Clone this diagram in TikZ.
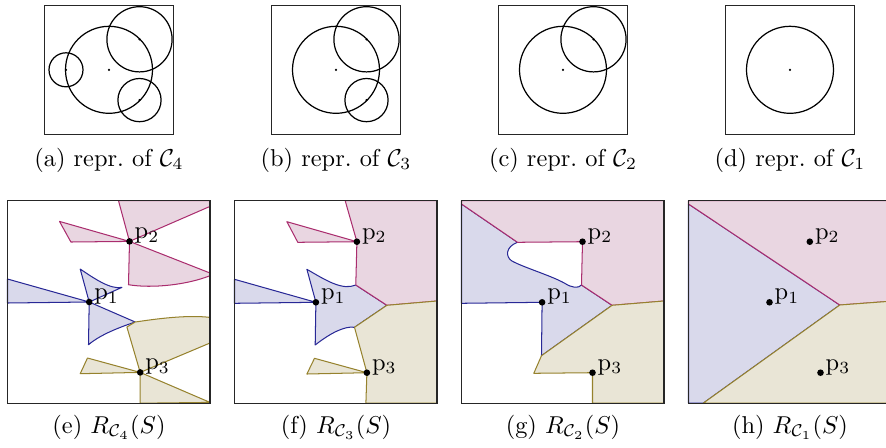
\documentclass[tikz,border=0pt]{standalone}
\usepackage{amsmath,amssymb}
\usepackage{tikz}
\usetikzlibrary{positioning}

\definecolor{regpink}{RGB}{233,214,225}
\definecolor{regblue}{RGB}{217,217,235}
\definecolor{regbeige}{RGB}{233,229,214}
\definecolor{linepink}{RGB}{170,45,110}
\definecolor{lineblue}{RGB}{40,40,150}
\definecolor{linebeige}{RGB}{150,130,45}

\begin{document}
\begin{tikzpicture}[
  x=0.41pt, y=-0.41pt,
  frame/.style={draw=black!85, line width=0.55pt},
  disk/.style={draw, line width=0.5pt},
  rpink/.style={fill=regpink, draw=linepink, line width=0.42pt, line join=round},
  rblue/.style={fill=regblue, draw=lineblue, line width=0.42pt, line join=round},
  rbeige/.style={fill=regbeige, draw=linebeige, line width=0.42pt, line join=round},
  plabel/.style={anchor=base west, inner sep=0pt, xshift=1.95pt, yshift=1pt},
  subcap/.style={anchor=base, inner sep=0pt}
]
  \useasboundingbox (0,0) rectangle (886,447);

  % --- TOP ROW: REPRESENTATIVES ---
  % (a) four circles
  \begin{scope}[shift={(109,69.8)}]
    \draw[frame] (-64.5,-64.5) rectangle (64.5,64.5);
    \draw[disk] (0,0) circle (43.5);
    \draw[disk] (30.5,-30.5) circle (32.6);
    \draw[disk] (-43,0) circle (17);
    \draw[disk] (30.5,30.3) circle (21.6);
    \foreach \c in {(0,0),(30.5,-30.5),(-43,0),(30.5,30.3)}
      \fill \c circle[radius=0.5pt];
  \end{scope}
  \node[subcap] (capa) at (109,166) {(a) repr.\ of $\mathcal{C}_4$};

  % (b) three circles
  \begin{scope}[shift={(336,69.8)}]
    \draw[frame] (-64.5,-64.5) rectangle (64.5,64.5);
    \draw[disk] (0,0) circle (43.5);
    \draw[disk] (30.5,-30.5) circle (32.6);
    \draw[disk] (30.5,30.3) circle (21.6);
    \foreach \c in {(0,0),(30.5,-30.5),(30.5,30.3)}
      \fill \c circle[radius=0.5pt];
  \end{scope}
  \node[subcap] (capb) at (336,166) {(b) repr.\ of $\mathcal{C}_3$};

  % (c) two circles
  \begin{scope}[shift={(563,69.8)}]
    \draw[frame] (-64.5,-64.5) rectangle (64.5,64.5);
    \draw[disk] (0,0) circle (43.5);
    \draw[disk] (30.5,-30.5) circle (32.6);
    \foreach \c in {(0,0),(30.5,-30.5)}
      \fill \c circle[radius=0.5pt];
  \end{scope}
  \node[subcap] (capc) at (563,166) {(c) repr.\ of $\mathcal{C}_2$};

  % (d) one circle
  \begin{scope}[shift={(790,69.8)}]
    \draw[frame] (-64.5,-64.5) rectangle (64.5,64.5);
    \draw[disk] (0,0) circle (43.5);
    \fill (0,0) circle[radius=0.5pt];
  \end{scope}
  \node[subcap] (capd) at (790,166) {(d) repr.\ of $\mathcal{C}_1$};

  % --- BOTTOM ROW: REGIONS ---
  % (e)
  \begin{scope}[shift={(7.5,200.7)}]
    \coordinate (ep1) at (81.7,101.3);
    \coordinate (ep2) at (122,40.7);
    \coordinate (ep3) at (132.7,171.7);
    % blue wedges
    \draw[rblue] (0,78.3) -- (ep1) -- (0,102.3) -- cycle;
    \draw[rblue] (ep1) -- (72.7,68.3) .. controls (86,77.3) and (102.7,89) .. (114.4,86.7) -- cycle;
    \draw[rblue] (ep1) -- (127.7,121.3) .. controls (120,124) and (95,132) .. (81,144) -- cycle;
    % pink wedges
    \draw[rpink] (ep2) -- (111,0) -- (202.5,0) -- (202.5,5.7) -- cycle;
    \draw[rpink] (ep2) -- (52,20.7) -- (63.4,41.3) -- cycle;
    \draw[rpink] (ep2) -- (202.5,72.3) -- (202.5,75) .. controls (180,84) and (145,88) .. (121,84) -- cycle;
    % beige wedges
    \draw[rbeige] (119.4,126.3) -- (127.7,121.3) .. controls (150,118) and (180,114) .. (202.5,116.7)
      -- (202.5,142.3) -- (ep3) -- cycle;
    \draw[rbeige] (ep3) -- (202.5,201.7) -- (132.7,202.5) -- cycle;
    \draw[rbeige] (ep3) -- (80,157.3) -- (72.7,173) -- cycle;
    \draw[frame] (0,0) rectangle (202.5,202.5);
    \foreach \p in {ep1,ep2,ep3} \fill (\p) circle[radius=1.35pt];
    \node[plabel] (el1) at (ep1) {$\mathrm{p}_1$};
    \node[plabel] (el2) at (ep2) {$\mathrm{p}_2$};
    \node[plabel] (el3) at (ep3) {$\mathrm{p}_3$};
  \end{scope}
  \node[subcap] (cape) at (109,433) {(e) $R_{\mathcal{C}_4}(S)$};

  % (f)
  \begin{scope}[shift={(234.5,200.7)}]
    \coordinate (fp1) at (81.4,101.6);
    \coordinate (fp2) at (122.4,41);
    \coordinate (fp3) at (132.4,172);
    \coordinate (fj) at (152.4,104.6);
    % blue
    \draw[rblue] (0,78.6) -- (fp1) -- (0,102.6) -- cycle;
    \draw[rblue] (fp1) -- (72.4,68.6) .. controls (92,80) and (108,90) .. (121.3,84.3)
      -- (fj) -- (120,126.6) .. controls (110,125) and (95,133) .. (80.7,144.3) -- cycle;
    % pink
    \draw[rpink] (110.7,0) -- (202.5,0) -- (202.5,100.3) -- (fj) -- (121.3,84.3) -- (fp2) -- cycle;
    \draw[rpink] (fp2) -- (52.4,21) -- (63.3,41.6) -- cycle;
    % beige
    \draw[rbeige] (120,126.6) -- (fj) -- (202.5,100.3) -- (202.5,202.5) -- (131.4,202.5) -- (fp3) -- cycle;
    \draw[rbeige] (fp3) -- (80,157.6) -- (72.4,173.3) -- cycle;
    \draw[frame] (0,0) rectangle (202.5,202.5);
    \foreach \p in {fp1,fp2,fp3} \fill (\p) circle[radius=1.35pt];
    \node[plabel] (fl1) at (fp1) {$\mathrm{p}_1$};
    \node[plabel] (fl2) at (fp2) {$\mathrm{p}_2$};
    \node[plabel] (fl3) at (fp3) {$\mathrm{p}_3$};
  \end{scope}
  \node[subcap] (capf) at (336,433) {(f) $R_{\mathcal{C}_3}(S)$};

  % (g)
  \begin{scope}[shift={(461.5,200.7)}]
    \coordinate (gp1) at (80.6,101.6);
    \coordinate (gp2) at (121,41);
    \coordinate (gp3) at (131,172);
    \coordinate (gj) at (150.6,104.6);
    % blue, with the hole
    \draw[rblue] (0,3.3) -- (56,41.6) .. controls (44,46) and (44,56) .. (50,60)
      .. controls (60,66) and (90,75) .. (103.3,82.6) .. controls (110,87) and (117,88) .. (120,84.3)
      -- (gj) -- (80,155) -- (gp1) -- (0,102.6) -- cycle;
    % pink
    \draw[rpink] (0,0) -- (202.5,0) -- (202.5,100.3) -- (gj) -- (120,84.3) -- (gp2) -- (56,41.6) -- (0,3.3) -- cycle;
    % beige
    \draw[rbeige] (80,155) -- (gj) -- (202.5,100.3) -- (202.5,202.5) -- (131,202.5) -- (gp3) -- (72.3,172.6) -- cycle;
    \draw[frame] (0,0) rectangle (202.5,202.5);
    \foreach \p in {gp1,gp2,gp3} \fill (\p) circle[radius=1.35pt];
    \node[plabel] (gl1) at (gp1) {$\mathrm{p}_1$};
    \node[plabel] (gl2) at (gp2) {$\mathrm{p}_2$};
    \node[plabel] (gl3) at (gp3) {$\mathrm{p}_3$};
  \end{scope}
  \node[subcap] (capg) at (563,433) {(g) $R_{\mathcal{C}_2}(S)$};

  % (h)
  \begin{scope}[shift={(688.5,200.7)}]
    \coordinate (hp1) at (81,101.6);
    \coordinate (hp2) at (121.3,41);
    \coordinate (hp3) at (132,172);
    \coordinate (hj) at (151.3,104.3);
    \draw[rblue] (0,3.3) -- (hj) -- (14.7,202.5) -- (0,202.5) -- cycle;
    \draw[rpink] (0,3.3) -- (0,0) -- (202.5,0) -- (202.5,100.5) -- (hj) -- cycle;
    \draw[rbeige] (hj) -- (202.5,100.5) -- (202.5,202.5) -- (14.7,202.5) -- cycle;
    \draw[frame] (0,0) rectangle (202.5,202.5);
    \foreach \p in {hp1,hp2,hp3} \fill (\p) circle[radius=1.35pt];
    \node[plabel] (hl1) at (hp1) {$\mathrm{p}_1$};
    \node[plabel] (hl2) at (hp2) {$\mathrm{p}_2$};
    \node[plabel] (hl3) at (hp3) {$\mathrm{p}_3$};
  \end{scope}
  \node[subcap] (caph) at (790,433) {(h) $R_{\mathcal{C}_1}(S)$};

\end{tikzpicture}
\end{document}
